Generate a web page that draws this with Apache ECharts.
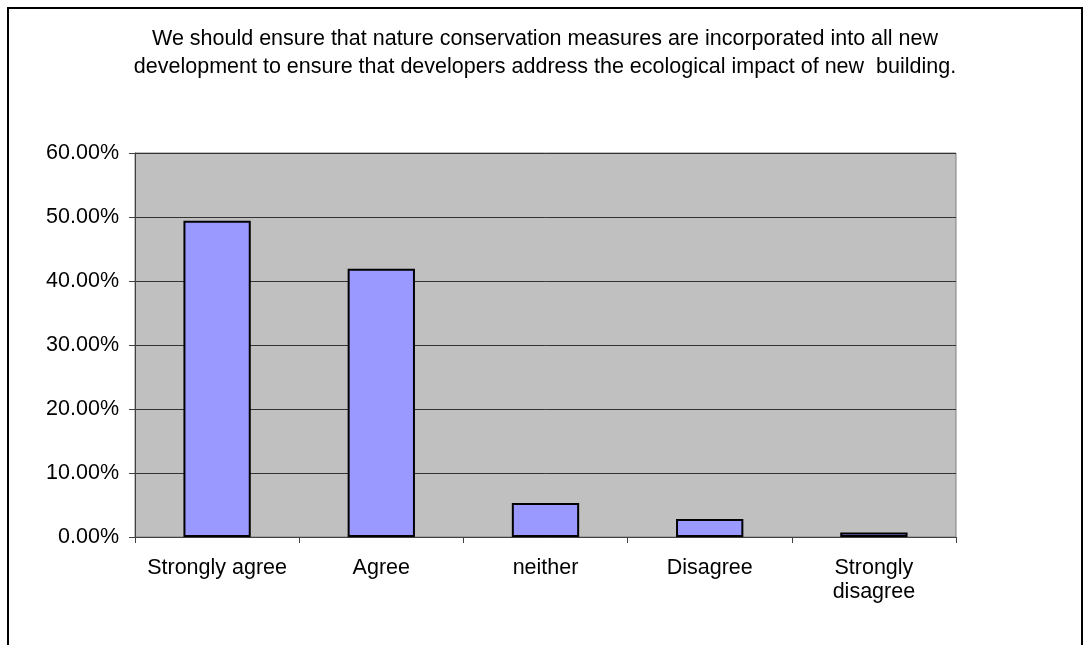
<!DOCTYPE html>
<html>
<head>
<meta charset="utf-8">
<script src="https://cdn.jsdelivr.net/npm/echarts@6/dist/echarts.min.js"></script>
<style>
html,body{margin:0;padding:0;background:#fff;}
#chart{width:1090px;height:645px;}
</style>
</head>
<body>
<div id="chart"></div>
<script>
var titleText = 'We should ensure that nature conservation measures are incorporated into all new\ndevelopment to ensure that developers address the ecological impact of new  building.';
var categories = ['Strongly agree', 'Agree', 'neither', 'Disagree', 'Strongly disagree'];
var values = [0.494, 0.419, 0.053, 0.028, 0.007];
var yTicks = { min: 0, max: 0.6, interval: 0.1 };

var chart = echarts.init(document.getElementById('chart'), null, { renderer: 'canvas' });
var font = 'Liberation Sans, Arial, sans-serif';
chart.setOption({
  animation: false,
  backgroundColor: '#ffffff',
  title: {
    text: titleText,
    left: 'center',
    top: 20,
    textStyle: { fontFamily: font, fontSize: 21.5, fontWeight: 'normal', color: '#000', lineHeight: 28 }
  },
  graphic: [{
    type: 'rect',
    shape: { x: 8, y: 8, width: 1074, height: 700 },
    style: { fill: 'none', stroke: '#000', lineWidth: 2 },
    silent: true
  }],
  grid: {
    left: 135, right: 134, top: 153, bottom: 108,
    show: true, backgroundColor: '#c0c0c0', borderColor: '#808080', borderWidth: 1
  },
  xAxis: {
    type: 'category',
    data: categories,
    axisLine: { show: true, lineStyle: { color: '#404040', width: 1 } },
    axisTick: { show: true, length: 6, interval: 0, alignWithLabel: false, lineStyle: { color: '#404040' } },
    axisLabel: {
      interval: 0, hideOverlap: false,
      fontFamily: font, fontSize: 21.5, color: '#000', margin: 19, lineHeight: 24,
      formatter: function (v) { return v === 'Strongly disagree' ? 'Strongly\ndisagree' : v; }
    },
    splitLine: { show: false }
  },
  yAxis: {
    type: 'value',
    min: yTicks.min, max: yTicks.max, interval: yTicks.interval,
    axisLine: { show: true, lineStyle: { color: '#404040', width: 1 } },
    axisTick: { show: true, length: 6, lineStyle: { color: '#404040' } },
    axisLabel: {
      fontFamily: font, fontSize: 21.5, color: '#000', margin: 16,
      formatter: function (v) { return (v * 100).toFixed(2) + '%'; }
    },
    splitLine: { show: true, lineStyle: { color: '#333333', width: 1 } }
  },
  series: [{
    type: 'bar',
    data: values,
    barWidth: '41%',
    itemStyle: { color: '#9999ff', borderColor: '#000', borderWidth: 2 }
  }]
});
</script>
</body>
</html>
